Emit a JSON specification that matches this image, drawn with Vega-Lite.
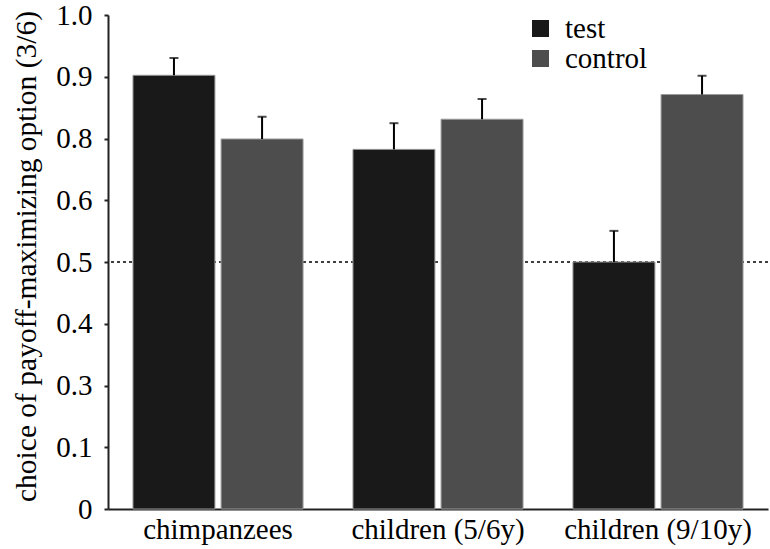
{
  "$schema": "https://vega.github.io/schema/vega-lite/v6.json",
  "width": 660,
  "height": 494,
  "autosize": {"type": "none"},
  "padding": {"left": 108, "top": 15, "right": 2, "bottom": 40},
  "background": "white",
  "config": {
    "view": {"stroke": null},
    "font": "Liberation Serif",
    "axis": {
      "labelFont": "Liberation Serif", "labelFontSize": 29, "labelColor": "black", "labelLimit": 0,
      "titleFont": "Liberation Serif", "titleFontSize": 29.5, "titleFontWeight": "normal", "titleColor": "black",
      "domainColor": "#222222", "tickColor": "#222222", "grid": false
    },
    "axisY": {"tickSize": 4, "domainWidth": 2, "tickWidth": 2, "labelPadding": 12, "titlePadding": 14, "titleY": 241},
    "axisX": {"ticks": false, "labelPadding": 6, "domainWidth": 2, "labelAngle": 0},
    "legend": {
      "labelFont": "Liberation Serif", "labelFontSize": 29, "labelColor": "black",
      "symbolType": "square", "symbolSize": 289, "symbolStrokeWidth": 0,
      "labelOffset": 10, "rowPadding": -10
    }
  },
  "data": {
    "values": [
      {"group": "chimpanzees", "condition": "test", "value": 0.878, "upper": 0.913},
      {"group": "chimpanzees", "condition": "control", "value": 0.749, "upper": 0.794},
      {"group": "children (5/6y)", "condition": "test", "value": 0.728, "upper": 0.781},
      {"group": "children (5/6y)", "condition": "control", "value": 0.789, "upper": 0.830},
      {"group": "children (9/10y)", "condition": "test", "value": 0.500, "upper": 0.563},
      {"group": "children (9/10y)", "condition": "control", "value": 0.839, "upper": 0.877}
    ]
  },
  "layer": [
    {
      "data": {"values": [{"level": 0.5}]},
      "mark": {"type": "rule", "strokeDash": [3, 3], "strokeWidth": 1.5, "color": "black"},
      "encoding": {"y": {"field": "level", "type": "quantitative", "title": "choice of payoff-maximizing option (3/6)"}}
    },
    {
      "mark": {"type": "bar", "stroke": "#9a9a9a", "strokeWidth": 1},
      "encoding": {
        "x": {"field": "group", "type": "nominal", "sort": null, "title": null,
              "scale": {"paddingInner": 0.227, "paddingOuter": 0.1136}},
        "xOffset": {"field": "condition", "type": "nominal", "sort": ["test", "control"],
                    "scale": {"paddingInner": 0.07, "paddingOuter": 0}},
        "y": {"field": "value", "type": "quantitative", "title": "choice of payoff-maximizing option (3/6)",
              "scale": {"domain": [0, 1], "nice": false},
              "axis": {
                "values": [0, 0.125, 0.25, 0.375, 0.5, 0.625, 0.75, 0.875, 1],
                "labelExpr": "datum.value == 0 ? '0' : datum.value == 0.125 ? '0.1' : datum.value == 0.25 ? '0.3' : datum.value == 0.375 ? '0.4' : datum.value == 0.5 ? '0.5' : datum.value == 0.625 ? '0.6' : datum.value == 0.75 ? '0.8' : datum.value == 0.875 ? '0.9' : '1.0'"
              }},
        "color": {"field": "condition", "type": "nominal",
                  "scale": {"domain": ["test", "control"], "range": ["#191919", "#4d4d4d"]},
                  "legend": {"title": null, "orient": "none", "legendX": 418, "legendY": -1}}
      }
    },
    {
      "mark": {"type": "rule", "color": "black", "strokeWidth": 2},
      "encoding": {
        "x": {"field": "group", "type": "nominal", "sort": null, "title": null},
        "xOffset": {"field": "condition", "type": "nominal", "sort": ["test", "control"]},
        "y": {"field": "value", "type": "quantitative", "title": "choice of payoff-maximizing option (3/6)"},
        "y2": {"field": "upper"}
      }
    },
    {
      "mark": {"type": "tick", "color": "black", "thickness": 2, "size": 9, "orient": "horizontal"},
      "encoding": {
        "x": {"field": "group", "type": "nominal", "sort": null, "title": null},
        "xOffset": {"field": "condition", "type": "nominal", "sort": ["test", "control"]},
        "y": {"field": "upper", "type": "quantitative", "title": "choice of payoff-maximizing option (3/6)"}
      }
    }
  ]
}
